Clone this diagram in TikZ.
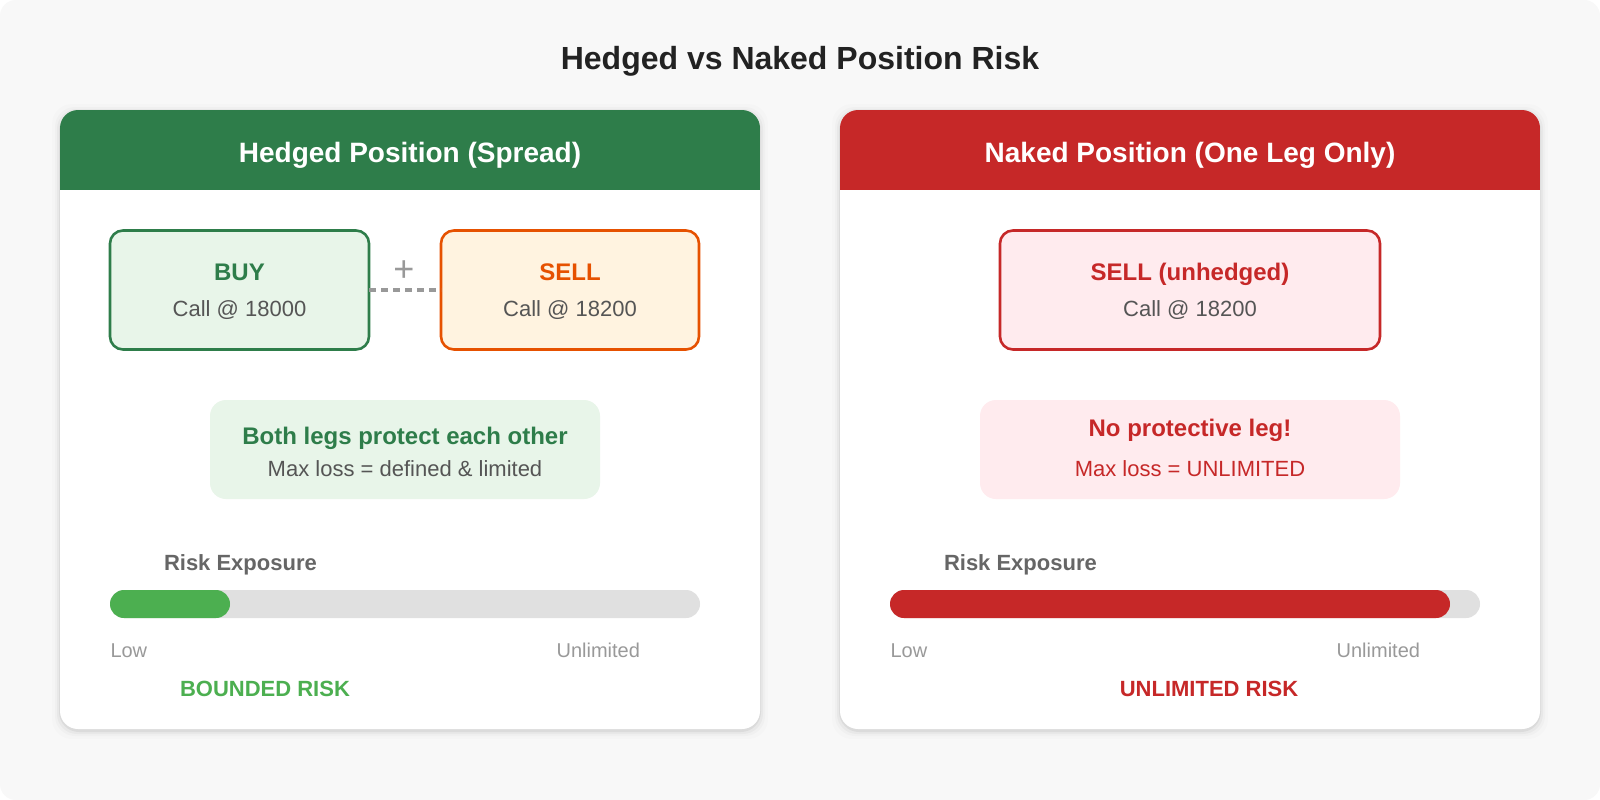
\documentclass[tikz,border=0pt]{standalone}
\usepackage{fontspec}
\setmainfont{Liberation Sans}
\newcommand\fsz[1]{\fontsize{#1}{#1}\selectfont}
\definecolor{bg}{HTML}{F8F8F8}
\definecolor{hgreen}{HTML}{2E7D4A}
\definecolor{hred}{HTML}{C62828}
\definecolor{orng}{HTML}{E65100}
\definecolor{lgreen}{HTML}{E8F5E9}
\definecolor{lorange}{HTML}{FFF3E0}
\definecolor{lred}{HTML}{FFEBEE}
\definecolor{bargreen}{HTML}{4CAF50}
\definecolor{bargray}{HTML}{E0E0E0}
\definecolor{txtdark}{HTML}{222222}
\definecolor{txtmid}{HTML}{555555}
\definecolor{txtlab}{HTML}{666666}
\definecolor{txtlight}{HTML}{999999}
\definecolor{dashgray}{HTML}{999999}
\begin{document}
\begin{tikzpicture}[x=1pt,y=-1pt,
  txt/.style={inner sep=0pt, outer sep=0pt, anchor=base},
  legbox/.style={rounded corners=13pt, line width=2.6pt, inner sep=0pt, outer sep=0pt},
  notebox/.style={rounded corners=16pt, inner sep=0pt, outer sep=0pt},
  barbg/.style={fill=bargray, rounded corners=14pt},
  titlefont/.style={font=\fsz{32}\bfseries, text=txtdark},
  headfont/.style={font=\fsz{28}\bfseries, text=white},
  boldlab/.style={font=\fsz{24}\bfseries},
  sublab/.style={font=\fsz{22}},
  risklab/.style={font=\fsz{22}\bfseries, text=txtlab},
  scalelab/.style={font=\fsz{20}, text=txtlight},
  verdict/.style={font=\fsz{22}\bfseries},
]
\useasboundingbox (0,0) rectangle (1600,800);
\fill[white] (0,0) rectangle (1600,800);
\fill[bg, rounded corners=16pt] (0,0) rectangle (1600,800);

% card shadows
\foreach \cx in {0,780}{
  \foreach \d/\o in {1/0.05,3/0.03,5/0.018,8/0.01}{
    \fill[black, opacity=\o, rounded corners=20pt]
      ({60+\cx-\d},{110-\d+2}) rectangle ({760+\cx+\d},{729+\d+2});
  }
}
% cards
\fill[white, rounded corners=18pt] (60,110) rectangle (760,729);
\fill[white, rounded corners=18pt] (840,110) rectangle (1540,729);
\begin{scope}
\clip[rounded corners=18pt] (60,110) rectangle (760,729);
\fill[hgreen] (60,110) rectangle (760,190);
\end{scope}
\begin{scope}
\clip[rounded corners=18pt] (840,110) rectangle (1540,729);
\fill[hred] (840,110) rectangle (1540,190);
\end{scope}

% title and headers
\node[txt, titlefont] (title) at (800,70) {Hedged vs Naked Position Risk};
\node[txt, headfont] (lhead) at (410,162) {Hedged Position (Spread)};
\node[txt, headfont] (rhead) at (1190,162) {Naked Position (One Leg Only)};

% left: legs
\node[legbox, draw=hgreen, fill=lgreen, minimum width=259, minimum height=119] (buy) at (239.5,290) {};
\node[legbox, draw=orng, fill=lorange, minimum width=258, minimum height=119] (sell) at (570,290) {};
\draw[dashgray, line width=3.4pt, dash pattern=on 7pt off 5pt] (buy.east) -- (sell.west);
\node[txt, font=\fsz{36}, text=dashgray] (plus) at (404,281) {+};
\node[txt, boldlab, text=hgreen] (buyt) at (239.5,280) {BUY};
\node[txt, sublab, text=txtmid] (buys) at (239.5,316) {Call @ 18000};
\node[txt, boldlab, text=orng] (sellt) at (570,280) {SELL};
\node[txt, sublab, text=txtmid] (sells) at (570,316) {Call @ 18200};

% left: note
\node[notebox, fill=lgreen, minimum width=390, minimum height=99] (lnote) at (405,449.5) {};
\node[txt, boldlab, text=hgreen] (lnotet) at (405,444) {Both legs protect each other};
\node[txt, sublab, text=txtmid] (lnotes) at (405,476) {Max loss = defined \& limited};

% left: risk bar
\node[txt, risklab, anchor=base west] (lrisk) at (164,570) {Risk Exposure};
\fill[barbg] (110,590) rectangle (700,618);
\fill[bargreen, rounded corners=14pt] (110,590) rectangle (230,618);
\node[txt, scalelab, anchor=base west] (llow) at (110.5,657) {Low};
\node[txt, scalelab, anchor=base east] (lunl) at (640,657) {Unlimited};
\node[txt, verdict, text=bargreen] (lverd) at (265,696) {BOUNDED RISK};

% right: leg
\node[legbox, draw=hred, fill=lred, minimum width=380, minimum height=119] (nsell) at (1190,290) {};
\node[txt, boldlab, text=hred] (nsellt) at (1190,280.5) {SELL (unhedged)};
\node[txt, sublab, text=txtmid] (nsells) at (1190,316.5) {Call @ 18200};

% right: note
\node[notebox, fill=lred, minimum width=420, minimum height=99] (rnote) at (1190,449.5) {};
\node[txt, boldlab, text=hred] (rnotet) at (1190,436) {No protective leg!};
\node[txt, sublab, text=hred] (rnotes) at (1190,476) {Max loss = UNLIMITED};

% right: risk bar
\node[txt, risklab, anchor=base west] (rrisk) at (944,570) {Risk Exposure};
\fill[barbg] (890,590) rectangle (1480,618);
\fill[hred, rounded corners=14pt] (890,590) rectangle (1450,618);
\node[txt, scalelab, anchor=base west] (rlow) at (890.5,657) {Low};
\node[txt, scalelab, anchor=base east] (runl) at (1420,657) {Unlimited};
\node[txt, verdict, text=hred] (rverd) at (1209,696) {UNLIMITED RISK};
\end{tikzpicture}
\end{document}
